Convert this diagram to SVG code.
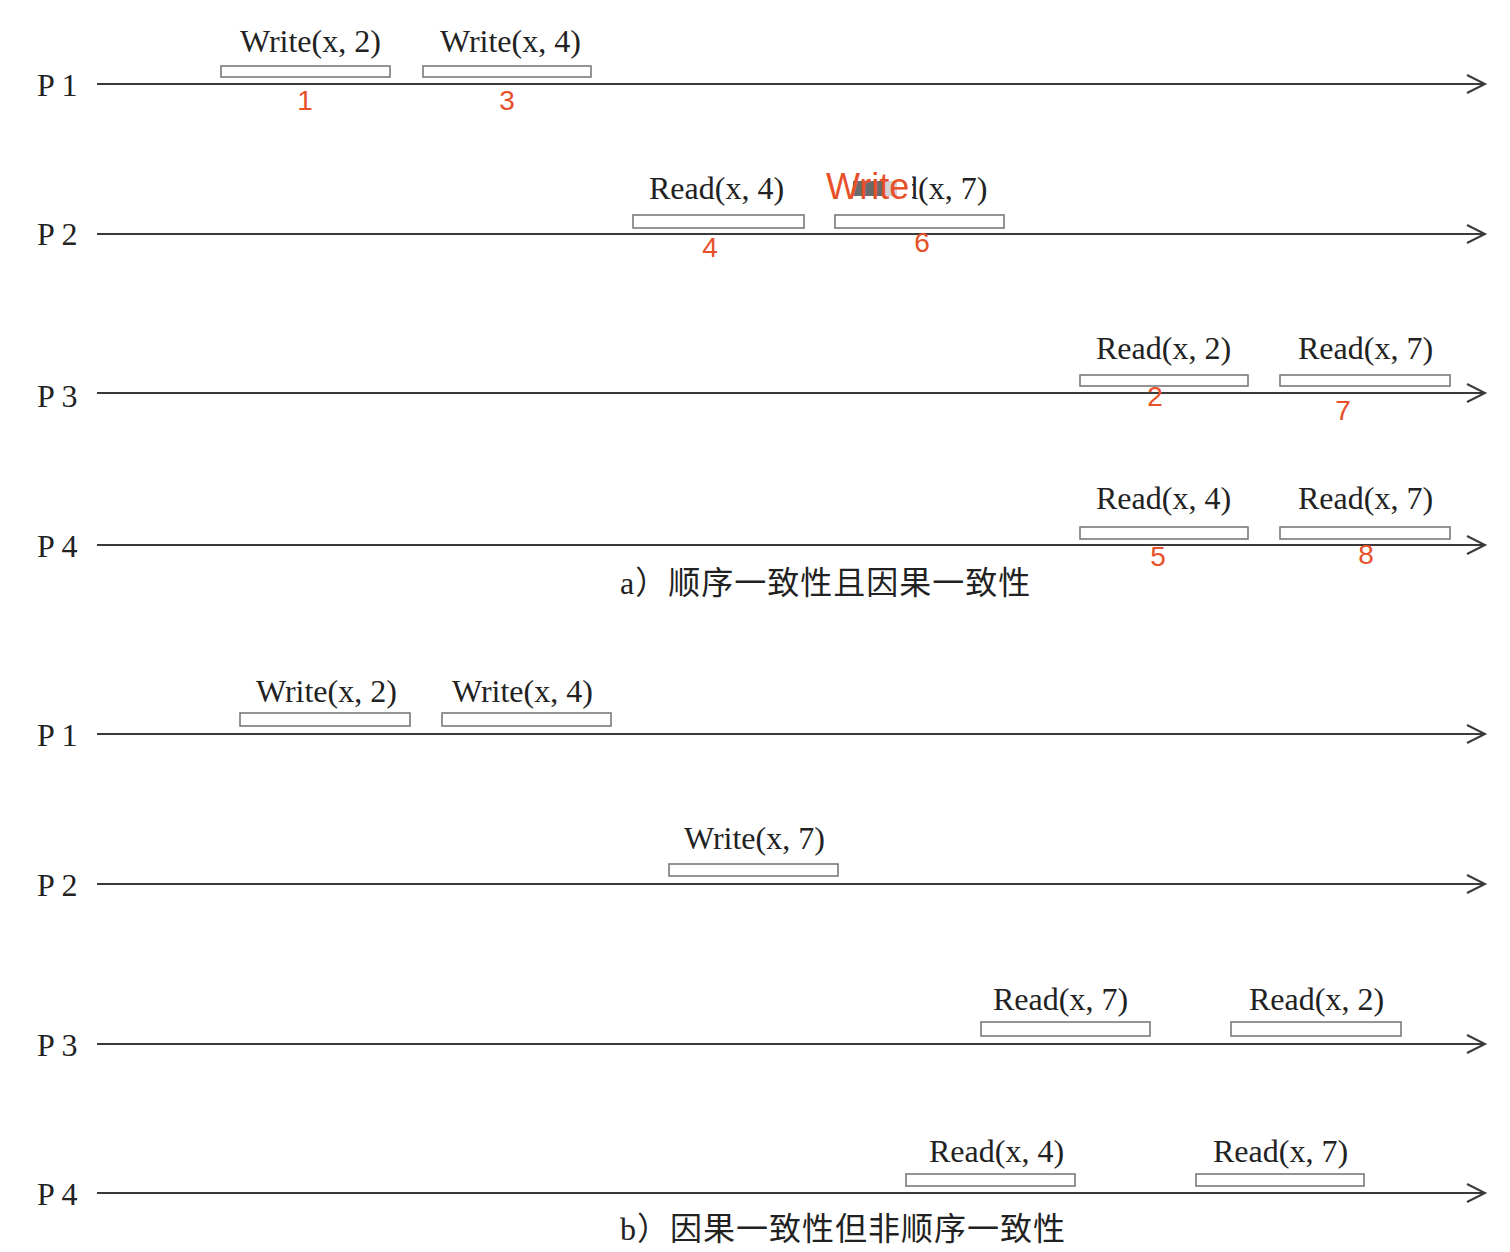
<svg xmlns="http://www.w3.org/2000/svg" width="1510" height="1252" viewBox="0 0 1510 1252">
<style>
.tl{stroke:#3a3a3a;stroke-width:2;fill:none}
.ah{stroke:#3a3a3a;stroke-width:2;fill:none}
.bx{fill:#fff;stroke:#7a7a7a;stroke-width:1.6}
.lb{font-family:"Liberation Serif",serif;font-size:32px;fill:#222}
.pl{font-family:"Liberation Serif",serif;font-size:32px;fill:#222}
.nm{font-family:"Liberation Sans",Arial,sans-serif;font-size:28px;fill:#e8502a;text-anchor:middle}
.cap{font-family:"Liberation Serif","Noto Sans CJK SC",serif;font-size:32px;letter-spacing:1px;fill:#222}
</style>
<rect width="1510" height="1252" fill="#fff"/>
<g id="connectors">
<path class="tl" d="M97 84H1485M97 234H1485M97 393H1485M97 545H1485M97 734H1485M97 884H1485M97 1044H1485M97 1193H1485"/>
<path class="ah" d="M1467 75L1485 84L1467 93M1467 225L1485 234L1467 243M1467 384L1485 393L1467 402M1467 536L1485 545L1467 554M1467 725L1485 734L1467 743M1467 875L1485 884L1467 893M1467 1035L1485 1044L1467 1053M1467 1184L1485 1193L1467 1202"/>
</g>
<g id="labels-a">
<text class="pl" x="37" y="96">P 1</text>
<text class="pl" x="37" y="245">P 2</text>
<text class="pl" x="37" y="407">P 3</text>
<text class="pl" x="37" y="557">P 4</text>
</g>
<g id="a-p1-w2"><rect class="bx" x="221" y="66" width="169" height="11"/><text class="lb" x="240" y="52">Write(x, 2)</text><text class="nm" x="305" y="110">1</text></g>
<g id="a-p1-w4"><rect class="bx" x="423" y="66" width="168" height="11"/><text class="lb" x="440" y="52">Write(x, 4)</text><text class="nm" x="507" y="110">3</text></g>
<g id="a-p2-r4"><rect class="bx" x="633" y="215" width="171" height="13"/><text class="lb" x="649" y="199">Read(x, 4)</text><text class="nm" x="710" y="257">4</text></g>
<g id="a-p2-w7"><rect class="bx" x="835" y="215" width="169" height="13"/>
<text class="lb" x="902" y="199">d(x, 7)</text>
<rect x="897" y="176" width="15" height="26" fill="#fff"/>
<rect x="853" y="181" width="30" height="15" fill="#6b6b6b"/>
<rect x="883" y="181" width="14" height="15" fill="#d4d4d4"/>
<text x="826" y="199" font-family="Liberation Sans,Arial,sans-serif" font-size="36" fill="#e8502a">Write</text>
<text class="nm" x="922" y="252">6</text></g>
<g id="a-p3-r2"><rect class="bx" x="1080" y="375" width="168" height="11"/><text class="lb" x="1096" y="359">Read(x, 2)</text><text class="nm" x="1155" y="406">2</text></g>
<g id="a-p3-r7"><rect class="bx" x="1280" y="375" width="170" height="11"/><text class="lb" x="1298" y="359">Read(x, 7)</text><text class="nm" x="1343" y="420">7</text></g>
<g id="a-p4-r4"><rect class="bx" x="1080" y="527" width="168" height="12"/><text class="lb" x="1096" y="509">Read(x, 4)</text><text class="nm" x="1158" y="566">5</text></g>
<g id="a-p4-r7"><rect class="bx" x="1280" y="527" width="170" height="12"/><text class="lb" x="1298" y="509">Read(x, 7)</text><text class="nm" x="1366" y="564">8</text></g>
<text class="cap" x="620" y="594">a）顺序一致性且因果一致性</text>
<g id="labels-b">
<text class="pl" x="37" y="746">P 1</text>
<text class="pl" x="37" y="896">P 2</text>
<text class="pl" x="37" y="1056">P 3</text>
<text class="pl" x="37" y="1205">P 4</text>
</g>
<g id="b-p1-w2"><rect class="bx" x="240" y="713" width="170" height="13"/><text class="lb" x="256" y="702">Write(x, 2)</text></g>
<g id="b-p1-w4"><rect class="bx" x="442" y="713" width="169" height="13"/><text class="lb" x="452" y="702">Write(x, 4)</text></g>
<g id="b-p2-w7"><rect class="bx" x="669" y="864" width="169" height="12"/><text class="lb" x="684" y="849">Write(x, 7)</text></g>
<g id="b-p3-r7"><rect class="bx" x="981" y="1022" width="169" height="14"/><text class="lb" x="993" y="1010">Read(x, 7)</text></g>
<g id="b-p3-r2"><rect class="bx" x="1231" y="1022" width="170" height="14"/><text class="lb" x="1249" y="1010">Read(x, 2)</text></g>
<g id="b-p4-r4"><rect class="bx" x="906" y="1174" width="169" height="12"/><text class="lb" x="929" y="1162">Read(x, 4)</text></g>
<g id="b-p4-r7"><rect class="bx" x="1196" y="1174" width="168" height="12"/><text class="lb" x="1213" y="1162">Read(x, 7)</text></g>
<text class="cap" x="620" y="1240">b）因果一致性但非顺序一致性</text>
</svg>
